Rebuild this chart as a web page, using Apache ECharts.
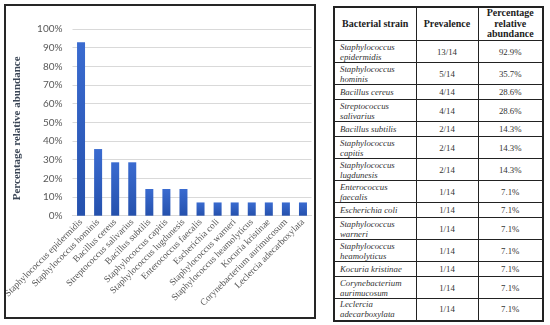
<!DOCTYPE html>
<html><head><meta charset="utf-8">
<script src="https://cdn.jsdelivr.net/npm/echarts@6/dist/echarts.min.js"></script>
<style>
html,body{margin:0;padding:0;background:#fff;}
#wrap{position:relative;width:550px;height:325px;overflow:hidden;background:#fff;}
#chart{position:absolute;left:0;top:0;width:550px;height:325px;}
#frame{position:absolute;left:4px;top:4px;width:308px;height:311px;border:2px solid #262626;pointer-events:none;}
#tbl{position:absolute;left:333px;top:6px;z-index:5;border-collapse:collapse;table-layout:fixed;
 font-family:"Liberation Serif","Times New Roman",serif;color:#222;background:#fff;border:2px solid #222;}
#tbl th,#tbl td{border:1px solid #222;padding:0;overflow:hidden;}
#tbl th{font-weight:bold;font-size:10px;line-height:10.7px;text-align:center;}
#tbl td{font-size:8.8px;line-height:10px;text-align:center;color:#333;}
#tbl td.n{font-style:italic;text-align:left;padding-left:5px;white-space:nowrap;}
</style>
</head><body>
<div id="wrap">
  <div id="chart"></div>
  <div id="frame"></div>
  <table id="tbl"></table>
</div>
<script>
// ---- data ----
const categories = ['Staphylococcus epidermidis','Staphylococcus hominis','Bacillus cereus','Streptococcus salivarius',
  'Bacillus subtilis','Staphylococcus capitis','Staphylococcus lugdunesis','Enterococcus faecalis','Escherichia coli',
  'Staphylococcus warneri','Staphylococcus heamolyticus','Kocuria kristinae','Corynebacterium aurimucosum','Leclercia adecarboxylata'];
const abundance = [92.9, 35.7, 28.6, 28.6, 14.3, 14.3, 14.3, 7.1, 7.1, 7.1, 7.1, 7.1, 7.1, 7.1];
const prevalence = ['13/14','5/14','4/14','4/14','2/14','2/14','2/14','1/14','1/14','1/14','1/14','1/14','1/14','1/14'];
const tableStrains = categories;
const tableHeaders = ['Bacterial strain','Prevalence','Percentage<br>relative<br>abundance'];
const yTicks = [0,10,20,30,40,50,60,70,80,90,100];

// ---- table ----
const tbl = document.getElementById('tbl');
let html = '<colgroup><col style="width:82px"><col style="width:62px"><col style="width:65px"></colgroup>';
html += '<tr style="height:33px">' + tableHeaders.map(h => '<th>' + h + '</th>').join('') + '</tr>';
tableStrains.forEach((s, i) => {
  const two = s.length > 18;
  const name = two ? s.replace(' ', '<br>') : s;
  html += '<tr style="height:' + (two ? 22 : 15) + 'px"><td class="n">' + name + '</td><td>' + prevalence[i] +
          '</td><td>' + abundance[i].toFixed(1) + '%</td></tr>';
});
tbl.innerHTML = html;

// ---- chart ----
const chart = echarts.init(document.getElementById('chart'), null, {renderer: 'canvas'});
chart.setOption({
  animation: false,
  grid: {left: 72.5, right: 238.5, top: 29, bottom: 109.3, containLabel: false},
  xAxis: {
    type: 'category', data: categories,
    axisLine: {show: true, lineStyle: {color: '#d9d9d9', width: 1}},
    axisTick: {show: false},
    axisLabel: {interval: 0, rotate: 45, margin: 5, fontFamily: '"Liberation Serif","Times New Roman",serif',
      fontSize: 9.4, color: '#595959'}
  },
  yAxis: {
    type: 'value', min: yTicks[0], max: yTicks[yTicks.length - 1], interval: 10,
    name: 'Percentage relative abundance', nameLocation: 'middle', nameGap: 50,
    nameTextStyle: {fontFamily: '"Liberation Serif","Times New Roman",serif', fontWeight: 'bold', fontSize: 11,
      color: '#3b4656', padding: [0, 12, 0, 0]},
    axisLine: {show: false}, axisTick: {show: false},
    axisLabel: {formatter: '{value}%', fontFamily: 'Lato, "Open Sans", sans-serif', fontSize: 10, color: '#595959', margin: 10},
    splitLine: {lineStyle: {color: '#d9d9d9', width: 1}}
  },
  series: [{
    type: 'bar', data: abundance, barWidth: 8,
    itemStyle: {color: new echarts.graphic.LinearGradient(0, 0, 0, 1, [
      {offset: 0, color: '#3a6bd0'}, {offset: 1, color: '#2551ad'}])}
  }]
});
</script>
</body></html>
